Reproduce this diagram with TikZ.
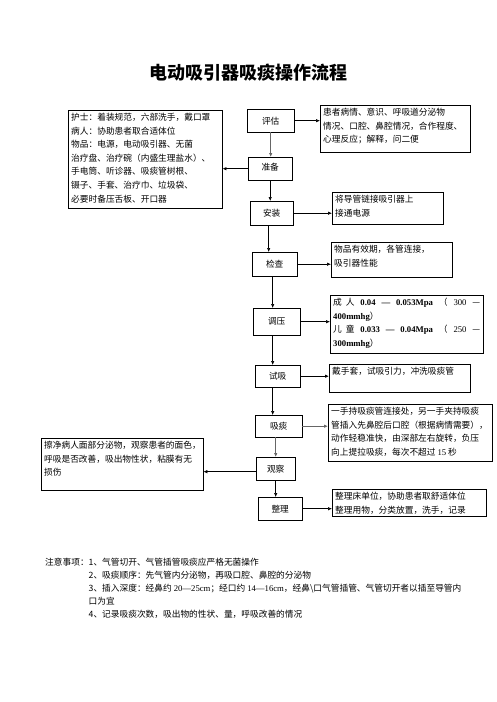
\documentclass[tikz,border=0pt]{standalone}
\usepackage{fontspec}
\setmainfont{Noto Sans CJK SC}
\newfontfamily\latin{Liberation Serif}
\usetikzlibrary{arrows.meta}
\tikzset{
  stepbox/.style={draw, anchor=north west, inner sep=0pt, font=\fontsize{8.7}{13.5}\selectfont},
  infobox/.style={draw, anchor=north west, inner xsep=3pt, inner ysep=3pt, font=\fontsize{8.7}{13.6}\selectfont},
  flow/.style={-{Latex[length=4pt,width=3.5pt]}, semithick},
  heavy/.style={flow, thick, black!60},
}
\newcommand{\boxtext}[3]{\parbox[c][#2][t]{#1}{#3}}

\begin{document}
\begin{tikzpicture}[x=1pt,y=-1pt]
				\useasboundingbox (0,0) rectangle (496,702);
				\node[font=\fontsize{18}{20}\selectfont\bfseries] (title) at (248,73) {电动吸引器吸痰操作流程};
				% steps
				\node[stepbox, minimum width=47pt, minimum height=23pt] (pinggu) at (247,109) {评估};
				\node[stepbox, minimum width=44pt, minimum height=23pt] (zhunbei) at (248,157) {\raisebox{3pt}{准备}\hspace{13pt}};
				\node[stepbox, minimum width=43pt, minimum height=24pt] (anzhuang) at (250,201) {安装};
				\node[stepbox, minimum width=45pt, minimum height=24pt] (jiancha) at (252,252) {检查};
				\node[stepbox, minimum width=47pt, minimum height=27pt] (tiaoya) at (253,308) {调压};
				\node[stepbox, minimum width=45pt, minimum height=22pt] (shixi) at (255,365) {试吸};
				\node[stepbox, minimum width=47pt, minimum height=22pt] (xitan) at (255,415) {吸痰};
				\node[stepbox, minimum width=39pt, minimum height=23pt] (guancha) at (256,457) {观察};
				\node[stepbox, minimum width=44pt, minimum height=23pt] (zhengli) at (258,497) {整理};
				% notes beside the steps
				\node[infobox] (wupin) at (68,110) {\boxtext{148pt}{92pt}{护士：着装规范，六部洗手，戴口罩\\病人：协助患者取合适体位\\物品：电源，电动吸引器、无菌\\治疗盘、治疗碗（内盛生理盐水）、\\手电筒、听诊器、吸痰管树根、\\镊子、手套、治疗巾、垃圾袋、\\必要时备压舌板、开口器}};
				\node[infobox] (pingguinfo) at (320,105) {\boxtext{144pt}{41pt}{患者病情、意识、呼吸道分泌物\\情况、口腔、鼻腔情况，合作程度、\\心理反应；解释，问二便}};
				\node[infobox] (anzhuanginfo) at (332,192) {\boxtext{105pt}{26pt}{将导管链接吸引器上\\接通电源}};
				\node[infobox] (jianchainfo) at (331,242) {\boxtext{115pt}{29pt}{物品有效期，各管连接，\\吸引器性能}};
				\node[infobox] (tiaoyainfo) at (330,295) {\boxtext{147pt}{52pt}{成\hspace{4pt}人\hfill{\latin\bfseries 0.04\hfill—\hfill0.053Mpa}\hfill（\hfill{\latin 300}\hfill—\\{\latin\bfseries 400mmhg}）\\儿\hspace{4pt}童\hfill{\latin\bfseries 0.033\hfill—\hfill0.04Mpa}\hfill（\hfill{\latin 250}\hfill—\\{\latin\bfseries 300mmhg}）}};
				\node[infobox] (shixiinfo) at (329,364) {\boxtext{135pt}{22pt}{戴手套，试吸引力，冲洗吸痰管}};
				\node[infobox] (xitaninfo) at (328,404) {\boxtext{158pt}{51pt}{一手持吸痰管连接处，另一手夹持吸痰\\管插入先鼻腔后口腔（根据病情需要），\\动作轻稳准快，由深部左右旋转，负压\\向上提拉吸痰，每次不超过 {\latin 15} 秒}};
				\node[infobox] (guanchainfo) at (41,438) {\boxtext{156pt}{46pt}{擦净病人面部分泌物，观察患者的面色，\\呼吸是否改善，吸出物性状，粘膜有无\\损伤}};
				\node[infobox] (zhengliinfo) at (332,489) {\boxtext{148pt}{21pt}{整理床单位，协助患者取舒适体位\\整理用物，分类放置，洗手，记录}};
				% flow down
				\draw[heavy] (pinggu.south) -- (pinggu.south |- zhunbei.north);
				\draw[flow] (zhunbei.south) -- (zhunbei.south |- anzhuang.north);
				\draw[flow] ([xshift=-3pt]anzhuang.south) -- ([xshift=-3pt]anzhuang.south |- jiancha.north);
				\draw[flow] ([xshift=-2pt]jiancha.south) -- ([xshift=-2pt]jiancha.south |- tiaoya.north);
				\draw[flow] ([xshift=-4pt]tiaoya.south) -- ([xshift=-4pt]tiaoya.south |- shixi.north);
				\draw[flow] ([xshift=-5pt]shixi.south) -- ([xshift=-5pt]shixi.south |- xitan.north);
				\draw[heavy] ([xshift=-3pt]xitan.south) -- ([xshift=-3pt]xitan.south |- guancha.north);
				\draw[flow] (guancha.south) -- (guancha.south |- zhengli.north);
				% flow sideways
				\draw[flow] (pinggu.east) -- (pinggu.east -| pingguinfo.west);
				\draw[flow, thick] (zhunbei.west) -- (zhunbei.west -| wupin.east);
				\draw[flow] (anzhuang.east) -- (anzhuang.east -| anzhuanginfo.west);
				\draw[flow] (jiancha.east) -- (jiancha.east -| jianchainfo.west);
				\draw[flow] (tiaoya.east) -- (tiaoya.east -| tiaoyainfo.west);
				\draw[flow, thick] (shixi.east) -- (shixi.east -| shixiinfo.west);
				\draw[heavy] (xitan.east) -- (xitan.east -| xitaninfo.west);
				\draw[flow] ([yshift=-3pt]guancha.west) -- ([yshift=-3pt]guancha.west -| guanchainfo.east);
				\draw[flow] (zhengli.east) -- (zhengli.east -| zhengliinfo.west);
				% remarks
				\node[anchor=north west, inner sep=0pt, font=\fontsize{8.7}{13}\selectfont] (zhuyi) at (45,556) {\begin{tabular}{@{}l@{}l@{}}
				注意事项：& 1、气管切开、气管插管吸痰应严格无菌操作\\
				& 2、吸痰顺序：先气管内分泌物，再吸口腔、鼻腔的分泌物\\
				& 3、插入深度：经鼻约 {\latin 20—25cm}；经口约 {\latin 14—16cm}，经鼻\textbackslash 口气管插管、气管切开者以插至导管内\\
				& 口为宜\\
				& 4、记录吸痰次数，吸出物的性状、量，呼吸改善的情况
				\end{tabular}};
\end{tikzpicture}
\end{document}
